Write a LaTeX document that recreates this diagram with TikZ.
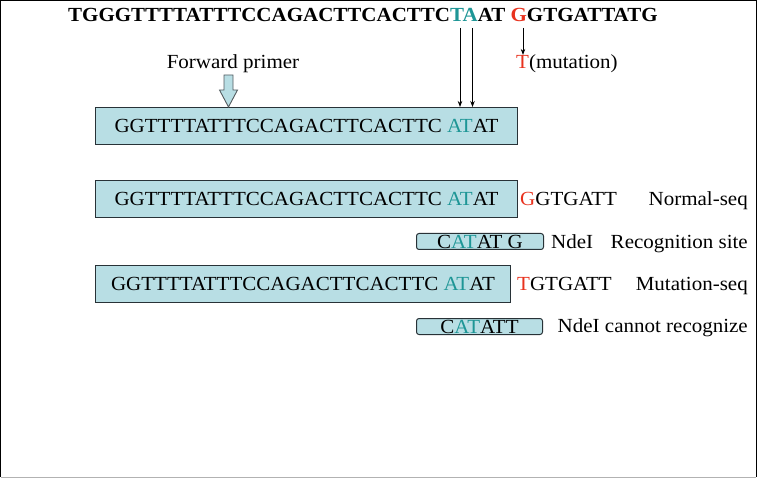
\documentclass[tikz,border=0pt]{standalone}
\usepackage{fontspec}
\setmainfont[FakeStretch=1.05]{Liberation Serif}
\usetikzlibrary{arrows.meta}
\definecolor{boxfill}{RGB}{184,222,228}
\definecolor{tealc}{RGB}{30,150,150}
\definecolor{redc}{RGB}{232,50,30}
\definecolor{edgec}{RGB}{40,50,55}
\tikzset{
  seqbox/.style={draw=edgec, fill=boxfill, line width=1pt, inner sep=0pt, anchor=north west},
  smallbox/.style={seqbox, rounded corners=2.5pt},
  lbl/.style={inner sep=0pt, font=\fontsize{20}{23}\selectfont},
  ttl/.style={inner sep=0pt, font=\fontsize{20}{23}\selectfont\bfseries},
  thinarrow/.style={line width=0.8pt, -{Stealth[length=6pt,width=4.5pt]}},
}
\begin{document}
\begin{tikzpicture}[x=1pt,y=-1pt]
\useasboundingbox (0,0) rectangle (757,478);
% frame
\draw[line width=1.3pt, black] (0.7,477) -- (0.7,0.7) -- (756.3,0.7) -- (756.3,477);
\draw[line width=1pt, black!30] (0.7,477.3) -- (756.3,477.3);

% title sequence
\node[ttl, anchor=base west] (title) at (68,22) {TGGGTTTTATTTCCAGACTTCACTTC\textcolor{tealc}{TA}AT \textcolor{redc}{G}GTGATTATG};

% labels under title
\node[lbl, anchor=base] (fwd) at (233,69) {Forward primer};
\node[lbl, anchor=base west] (mut) at (516,69) {\textcolor{redc}{T}(mutation)};

% sequence boxes
\node[seqbox, minimum width=422pt, minimum height=37pt] (b1) at (95,107) {};
\node[lbl] at (b1.center) {GGTTTTATTTCCAGACTTCACTTC \textcolor{tealc}{AT}AT};

\node[seqbox, minimum width=422pt, minimum height=37pt] (b2) at (95,180) {};
\node[lbl] at (b2.center) {GGTTTTATTTCCAGACTTCACTTC \textcolor{tealc}{AT}AT};

\node[smallbox, minimum width=127pt, minimum height=16pt] (b3) at (416,233) {};
\node[lbl] at (b3.center) {C\textcolor{tealc}{AT}AT G};

\node[seqbox, minimum width=415pt, minimum height=37pt] (b4) at (95,265) {};
\node[lbl] at (b4.center) {GGTTTTATTTCCAGACTTCACTTC \textcolor{tealc}{AT}AT};

\node[smallbox, minimum width=126pt, minimum height=16pt] (b5) at (416,318) {};
\node[lbl] at (b5.center) {C\textcolor{tealc}{AT}ATT};

% right-hand texts
\node[lbl, anchor=base west] (n1) at (520,205.5) {\textcolor{redc}{G}GTGATT};
\node[lbl, anchor=base east] (n2) at (748,205.5) {Normal-seq};
\node[lbl, anchor=base west] (n3) at (551,248) {NdeI};
\node[lbl, anchor=base east] (n4) at (748,248) {Recognition site};
\node[lbl, anchor=base west] (n5) at (517,290.5) {\textcolor{redc}{T}GTGATT};
\node[lbl, anchor=base east] (n6) at (748,290.5) {Mutation-seq};
\node[lbl, anchor=base east] (n7) at (748,332.5) {NdeI cannot recognize};

% arrows from title
\coordinate (ta) at (460,28);
\coordinate (tb) at (472.5,28);
\coordinate (tg) at (523,28);
\draw[thinarrow] (ta) -- (ta |- b1.north);
\draw[thinarrow] (tb) -- (tb |- b1.north);
\draw[thinarrow] (tg) -- (tg |- mut.north);

% forward primer block arrow
\coordinate (fa) at (228.5,75);
\draw[draw=edgec!80, fill=boxfill, line width=0.9pt, line join=miter]
  ([xshift=-4.5pt]fa) -- ([xshift=4.5pt]fa) -- ([xshift=4.5pt,yshift=-15pt]fa)
  -- ([xshift=9pt,yshift=-15pt]fa) -- (fa |- b1.north) -- ([xshift=-9pt,yshift=-15pt]fa)
  -- ([xshift=-4.5pt,yshift=-15pt]fa) -- cycle;
\end{tikzpicture}
\end{document}
